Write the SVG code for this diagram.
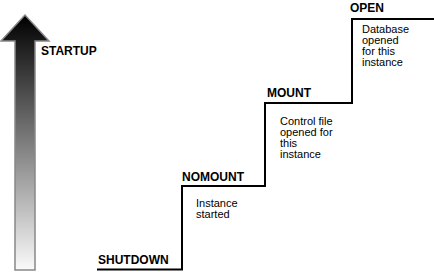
<svg xmlns="http://www.w3.org/2000/svg" width="434" height="272" viewBox="0 0 434 272">
<defs>
<linearGradient id="g" x1="0" y1="0" x2="0" y2="1">
<stop offset="0" stop-color="#000"/>
<stop offset="1" stop-color="#fafafa"/>
</linearGradient>
<style>
.lbl{font-family:"Liberation Sans",Arial,sans-serif;font-weight:bold;font-size:12px;fill:#000}
.txt{font-family:"Liberation Sans",Arial,sans-serif;font-size:11px;fill:#000}
.step{fill:none;stroke:#000;stroke-width:2}
</style>
</defs>
<rect width="434" height="272" fill="#fff"/>
<g id="startup">
<polygon points="25,15 1,41 15,41 15,270 35,270 35,41 49,41" fill="url(#g)" stroke="#888" stroke-width="1.5"/>
<text class="lbl" x="41" y="55">STARTUP</text>
</g>
<g id="connectors">
<path class="step" d="M97,269.5 H182 V186 H265 V103 H352 V19 H434"/>
</g>
<g id="shutdown">
<text class="lbl" x="98" y="264">SHUTDOWN</text>
</g>
<g id="nomount">
<text class="lbl" x="182" y="181">NOMOUNT</text>
<text class="txt" x="196" y="207">Instance</text>
<text class="txt" x="196" y="218">started</text>
</g>
<g id="mount">
<text class="lbl" x="267" y="97">MOUNT</text>
<text class="txt" x="280" y="125">Control file</text>
<text class="txt" x="280" y="136">opened for</text>
<text class="txt" x="280" y="147">this</text>
<text class="txt" x="280" y="158">instance</text>
</g>
<g id="open">
<text class="lbl" x="350" y="12">OPEN</text>
<text class="txt" x="362" y="33">Database</text>
<text class="txt" x="362" y="44">opened</text>
<text class="txt" x="362" y="55">for this</text>
<text class="txt" x="362" y="66">instance</text>
</g>
</svg>
